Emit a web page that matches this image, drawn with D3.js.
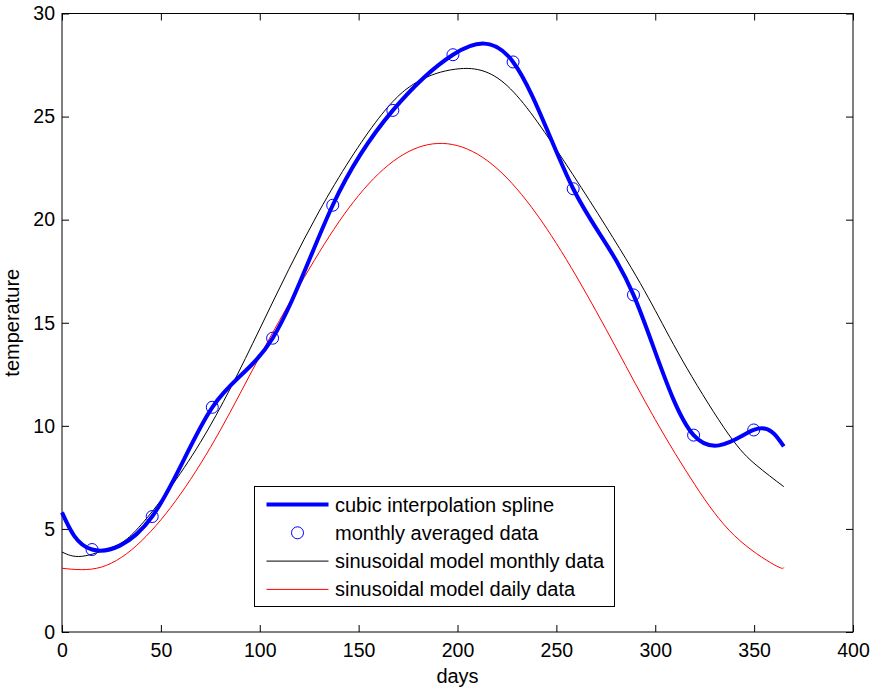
<!DOCTYPE html>
<html>
<head>
<meta charset="utf-8">
<script src="https://cdn.jsdelivr.net/npm/d3@7"></script>
<style>
  body { margin: 0; background: #fff; }
  svg text { font-family: "Liberation Sans", Arial, sans-serif; }
</style>
</head>
<body>
<div id="chart"></div>
<script>
// monthly averaged data (day of year, temperature)
var monthDays = [15.2, 45.6, 76.0, 106.5, 136.9, 167.3, 197.7, 228.1, 258.5, 289.0, 319.4, 349.8];
var monthTemps = [4.0, 5.6, 10.9, 14.25, 20.7, 25.3, 28.0, 27.65, 21.5, 16.35, 9.55, 9.8];

// spline end values
var splineStart = [0, 5.8];
var splineEnd = [365, 9.0];

// sinusoidal model, monthly data
var monthlyModelDays = [0, 10, 25, 40, 70, 100, 130, 160, 180, 199, 222, 250, 282, 300, 316, 337, 351, 365];
var monthlyModelTemps = [3.88, 3.67, 4.1, 5.2, 9.2, 14.7, 20.4, 24.9, 26.7, 27.3, 26.75, 23.4, 18.6, 15.6, 12.8, 9.6, 8.1, 7.05];

// sinusoidal model, daily data
var dailyModelDays = [0, 20, 40, 60, 80, 100, 120, 140, 160, 180, 200, 220, 240, 260, 280, 300, 320, 340, 360, 365];
var dailyModelTemps = [3.09, 3.15, 4.4, 6.7, 9.78, 13.37, 16.79, 19.89, 22.22, 23.5, 23.59, 22.48, 20.27, 17.27, 13.82, 10.3, 7.15, 4.68, 3.27, 3.12];

var xTicks = [0, 50, 100, 150, 200, 250, 300, 350, 400];
var yTicks = [0, 5, 10, 15, 20, 25, 30];

var legendLabels = ["cubic interpolation spline", "monthly averaged data",
    "sinusoidal model monthly data", "sinusoidal model daily data"];

var width = 875, height = 687;
var margin = { left: 62, right: 22, top: 13.5, bottom: 55 };
var tick = 7;

var svg = d3.select("#chart").append("svg")
    .attr("width", width)
    .attr("height", height);

var x = d3.scaleLinear()
    .domain([0, 400])
    .range([margin.left, width - margin.right]);

var y = d3.scaleLinear()
    .domain([0, 30])
    .range([height - margin.bottom, margin.top]);

var pairs = function(xs, ys){ return xs.map(function(d, i){ return [d, ys[i]]; }); };

var splineData = [splineStart].concat(pairs(monthDays, monthTemps), [splineEnd]);
var monthlyModel = pairs(monthlyModelDays, monthlyModelTemps);
var dailyModel = pairs(dailyModelDays, dailyModelTemps);
var monthly = pairs(monthDays, monthTemps);

var line = d3.line()
    .x(function(d){ return x(d[0]); })
    .y(function(d){ return y(d[1]); })
    .curve(d3.curveNatural);

// axes
var xAxis = d3.axisBottom(x).tickValues(xTicks).tickSizeInner(-tick).tickSizeOuter(0).tickPadding(11);
var yAxis = d3.axisLeft(y).tickValues(yTicks).tickSizeInner(-tick).tickSizeOuter(0).tickPadding(7);
var xTop = d3.axisTop(x).tickValues(xTicks).tickSizeInner(-tick).tickSizeOuter(0).tickFormat("");
var yRight = d3.axisRight(y).tickValues(yTicks).tickSizeInner(-tick).tickSizeOuter(0).tickFormat("");

function styleAxis(g){
    g.selectAll("path").remove();
    g.selectAll("line").attr("stroke", "#000");
    g.selectAll("text").attr("fill", "#000").attr("font-size", "19.5px")
        .style("font-family", "'Liberation Sans', Arial, sans-serif");
}

svg.append("g").attr("transform", "translate(0," + y(0) + ")").call(xAxis).call(styleAxis);
svg.append("g").attr("transform", "translate(" + x(0) + ",0)").call(yAxis).call(styleAxis);
svg.append("g").attr("transform", "translate(0," + y(30) + ")").call(xTop).call(styleAxis);
svg.append("g").attr("transform", "translate(" + x(400) + ",0)").call(yRight).call(styleAxis);

svg.append("rect")
    .attr("x", x(0)).attr("y", y(30))
    .attr("width", x(400) - x(0)).attr("height", y(0) - y(30))
    .attr("fill", "none").attr("stroke", "#000").attr("stroke-width", 1);

svg.append("text")
    .attr("x", (x(0) + x(400)) / 2).attr("y", 682.5)
    .attr("text-anchor", "middle").attr("font-size", "20px")
    .text("days");

svg.append("text")
    .attr("transform", "translate(19," + ((y(0) + y(30)) / 2) + ") rotate(-90)")
    .attr("text-anchor", "middle").attr("font-size", "20px")
    .text("temperature");

// curves
var curves = svg.append("g");

curves.append("path").datum(dailyModel)
    .attr("d", line).attr("fill", "none").attr("stroke", "#ff0000").attr("stroke-width", 1);

curves.append("path").datum(monthlyModel)
    .attr("d", line).attr("fill", "none").attr("stroke", "#000").attr("stroke-width", 1);

curves.append("path").datum(splineData)
    .attr("d", line).attr("fill", "none").attr("stroke", "#0000ff").attr("stroke-width", 4);

curves.selectAll("circle").data(monthly).enter()
    .append("circle")
    .attr("cx", function(d){ return x(d[0]); })
    .attr("cy", function(d){ return y(d[1]); })
    .attr("r", 6)
    .attr("fill", "none").attr("stroke", "#0000ff").attr("stroke-width", 1);

// legend
var legend = svg.append("g").attr("transform", "translate(254.5,486.5)");

legend.append("rect")
    .attr("width", 360).attr("height", 120)
    .attr("fill", "#fff").attr("stroke", "#000").attr("stroke-width", 1);

var rowY = function(i){ return 18 + i * 28.3; };

legend.append("line").attr("x1", 12).attr("x2", 74).attr("y1", rowY(0)).attr("y2", rowY(0))
    .attr("stroke", "#0000ff").attr("stroke-width", 4);
legend.append("circle").attr("cx", 43).attr("cy", rowY(1)).attr("r", 6)
    .attr("fill", "none").attr("stroke", "#0000ff");
legend.append("line").attr("x1", 12).attr("x2", 74).attr("y1", rowY(2)).attr("y2", rowY(2))
    .attr("stroke", "#000").attr("stroke-width", 1);
legend.append("line").attr("x1", 12).attr("x2", 74).attr("y1", rowY(3)).attr("y2", rowY(3))
    .attr("stroke", "#ff0000").attr("stroke-width", 1);

legend.selectAll("text.label").data(legendLabels).enter()
    .append("text")
    .attr("class", "label")
    .attr("x", 80.5)
    .attr("y", function(d, i){ return rowY(i) + 7; })
    .attr("font-size", "20px")
    .text(function(d){ return d; });
</script>
</body>
</html>
